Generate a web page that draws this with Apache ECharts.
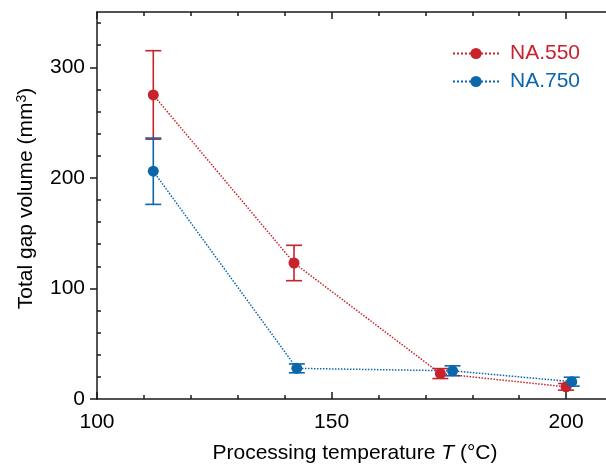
<!DOCTYPE html>
<html>
<head>
<meta charset="utf-8">
<script src="https://cdn.jsdelivr.net/npm/echarts@6/dist/echarts.min.js"></script>
<style>html,body{margin:0;padding:0;background:#fff}#c{width:606px;height:464px}</style>
</head>
<body>
<div id="c"></div>
<script>
// ---- data ----
const seriesNames = ['NA.550', 'NA.750'];
const temps550 = [112, 142, 173.2, 200];
const vals550 = [275, 123, 23, 11];
const err550 = [40, 16, 4.5, 3];
const temps750 = [112, 142.6, 175.8, 201.2];
const vals750 = [206, 27.7, 25.5, 15.7];
const err750 = [30, 4, 4.5, 4];
const xTickLabels = [100, 150, 200];
const yTickLabels = [0, 100, 200, 300];
const yMinorTicks = [20, 40, 60, 80, 120, 140, 160, 180, 220, 240, 260, 280, 320, 340];

const RED = '#c8222c';
const BLUE = '#0b66ab';
const FONT = 'Liberation Sans, Arial, Helvetica, sans-serif';
const AX = '#1a1a1a';
const TXT = '#000';

function pts(xs, ys) { return xs.map((x, i) => [x, ys[i]]); }
function bars(xs, ys, es) { return xs.map((x, i) => [x, ys[i] - es[i], ys[i] + es[i]]); }

function errRender(color) {
  return function (params, api) {
    const x = api.value(0);
    const lo = api.coord([x, api.value(1)]);
    const hi = api.coord([x, api.value(2)]);
    const w = 8;
    const st = { stroke: color, lineWidth: 1.6 };
    return {
      type: 'group',
      children: [
        { type: 'line', shape: { x1: lo[0], y1: lo[1], x2: hi[0], y2: hi[1] }, style: st },
        { type: 'line', shape: { x1: lo[0] - w, y1: lo[1], x2: lo[0] + w, y2: lo[1] }, style: st },
        { type: 'line', shape: { x1: hi[0] - w, y1: hi[1], x2: hi[0] + w, y2: hi[1] }, style: st }
      ]
    };
  };
}

const chart = echarts.init(document.getElementById('c'), null, { renderer: 'canvas' });

const lineCommon = {
  type: 'line',
  symbol: 'circle',
  symbolSize: 11,
  animation: false,
  z: 5
};

chart.setOption({
  animation: false,
  textStyle: { fontFamily: FONT },
  grid: { left: 97, top: 12, right: -7, bottom: 65, outerBoundsMode: 'none', containLabel: false },
  legend: [
    {
      left: 447, top: 38, itemWidth: 46, itemHeight: 14,
      selectedMode: false,
      data: [{ name: seriesNames[0], textStyle: { color: RED } }],
      textStyle: { fontSize: 21, fontFamily: FONT, padding: [0, 0, 0, 6] }
    },
    {
      left: 447, top: 66, itemWidth: 46, itemHeight: 14,
      selectedMode: false,
      data: [{ name: seriesNames[1], textStyle: { color: BLUE } }],
      textStyle: { fontSize: 21, fontFamily: FONT, padding: [0, 0, 0, 6] }
    }
  ],
  xAxis: [
    {
      type: 'value', position: 'bottom', min: 100, max: 210, interval: 50,
      splitLine: { show: false },
      axisLine: { show: true, lineStyle: { color: AX, width: 1.5 } },
      axisTick: { show: true, inside: true, length: 7, lineStyle: { color: AX, width: 1.5 }, customValues: xTickLabels },
      minorTick: { show: true, splitNumber: 5, length: 4, lineStyle: { color: AX, width: 1.5 } },
      axisLabel: { show: true, margin: 13, fontSize: 21, color: TXT, fontFamily: FONT, customValues: xTickLabels },
      name: '{a|Processing temperature }{i|T}{a| (°C)}',
      nameLocation: 'middle',
      nameGap: 44,
      nameTextStyle: {
        rich: {
          a: { fontSize: 21, color: TXT, fontFamily: FONT },
          i: { fontSize: 21, color: TXT, fontFamily: FONT, fontStyle: 'italic' }
        }
      }
    },
    {
      type: 'value', position: 'top', min: 100, max: 210, interval: 50,
      splitLine: { show: false },
      axisLine: { show: true, onZero: false, lineStyle: { color: AX, width: 1.5 } },
      axisTick: { show: true, inside: true, length: 7, lineStyle: { color: AX, width: 1.5 }, customValues: xTickLabels },
      minorTick: { show: true, splitNumber: 5, length: 4, lineStyle: { color: AX, width: 1.5 } },
      axisLabel: { show: false }
    }
  ],
  yAxis: [
    {
      type: 'value', position: 'left', min: 0, max: 350, interval: 100,
      splitLine: { show: false },
      axisLine: { show: true, lineStyle: { color: AX, width: 1.5 } },
      axisTick: { show: true, inside: false, length: 7, lineStyle: { color: AX, width: 1.5 }, customValues: yTickLabels },
      axisLabel: { show: true, margin: 12, fontSize: 21, color: TXT, fontFamily: FONT, customValues: yTickLabels },
      name: '{a|Total gap volume (mm}{s|3}{a|)}',
      nameLocation: 'middle',
      nameRotate: 90,
      nameGap: 60,
      nameTextStyle: {
        padding: [0, 0, 0, 14],
        rich: {
          a: { fontSize: 21, color: TXT, fontFamily: FONT },
          s: { fontSize: 14, color: TXT, fontFamily: FONT, verticalAlign: 'top', padding: [0, 0, 8, 0] }
        }
      }
    },
    {
      type: 'value', position: 'left', min: 0, max: 350, interval: 100,
      splitLine: { show: false },
      axisLine: { show: false },
      axisTick: { show: true, inside: true, length: 4, lineStyle: { color: AX, width: 1.5 }, customValues: yMinorTicks },
      axisLabel: { show: false }
    }
  ],
  series: [
    {
      name: seriesNames[0] + ' err', type: 'custom', xAxisIndex: 0, yAxisIndex: 0, z: 3,
      renderItem: errRender(RED), data: bars(temps550, vals550, err550), silent: true
    },
    {
      name: seriesNames[1] + ' err', type: 'custom', xAxisIndex: 0, yAxisIndex: 0, z: 3,
      renderItem: errRender(BLUE), data: bars(temps750, vals750, err750), silent: true
    },
    Object.assign({}, lineCommon, {
      name: seriesNames[0], data: pts(temps550, vals550),
      itemStyle: { color: RED },
      lineStyle: { color: RED, width: 1.5, type: 'dotted' }
    }),
    Object.assign({}, lineCommon, {
      name: seriesNames[1], data: pts(temps750, vals750),
      itemStyle: { color: BLUE },
      lineStyle: { color: BLUE, width: 1.5, type: 'dotted' }
    })
  ]
});
</script>
</body>
</html>
